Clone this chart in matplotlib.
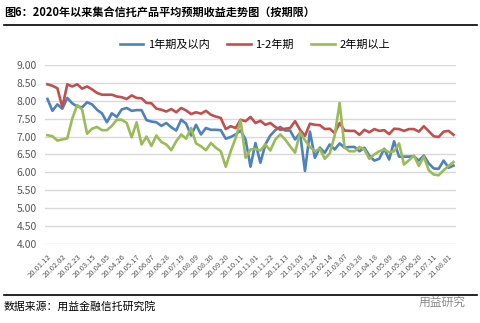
import numpy as np
import matplotlib
matplotlib.use('Agg')
import matplotlib.pyplot as plt
from matplotlib.lines import Line2D

plt.rcParams['font.family'] = ['Noto Sans CJK SC', 'DejaVu Sans']

#Weekly dates, one point per week starting 2020-01-12
tick_labels = ['20.01.12', '20.02.02', '20.02.23', '20.03.15', '20.04.05', '20.04.26',
               '20.05.17', '20.06.07', '20.06.28', '20.07.19', '20.08.09', '20.08.30',
               '20.09.20', '20.10.11', '20.11.01', '20.11.22', '20.12.13', '21.01.03',
               '21.01.24', '21.02.14', '21.03.07', '21.03.28', '21.04.18', '21.05.09',
               '21.05.30', '21.06.20', '21.07.11', '21.08.01']

series_names = ['1年期及以内', '1-2年期', '2年期以上']

within_1y = [8.05, 7.72, 7.90, 7.78, 8.08, 7.93, 7.84, 7.82, 7.96, 7.90,
             7.75, 7.65, 7.40, 7.65, 7.55, 7.76, 7.80, 7.72, 7.74, 7.74,
             7.46, 7.42, 7.40, 7.30, 7.38, 7.26, 7.17, 7.47, 7.36, 7.03,
             7.33, 7.06, 7.24, 7.19, 7.19, 7.18, 6.94, 6.99, 7.06, 7.17,
             6.92, 6.16, 6.82, 6.27, 6.78, 7.03, 7.18, 7.27, 7.17, 7.17,
             6.92, 7.10, 6.04, 7.14, 6.41, 6.69, 6.55, 6.78, 6.64, 6.81,
             6.69, 6.71, 6.71, 6.59, 6.69, 6.47, 6.33, 6.38, 6.66, 6.36,
             6.87, 6.44, 6.44, 6.44, 6.45, 6.33, 6.47, 6.25, 6.11, 6.10,
             6.33, 6.13, 6.19]

y1_to_2 = [8.46, 8.42, 8.35, 7.82, 8.46, 8.40, 8.46, 8.34, 8.40, 8.32,
           8.22, 8.17, 8.17, 8.17, 8.12, 8.10, 8.05, 8.15, 8.08, 8.07,
           7.94, 7.93, 7.78, 7.75, 7.70, 7.77, 7.68, 7.80, 7.73, 7.63,
           7.68, 7.64, 7.72, 7.61, 7.56, 7.52, 7.21, 7.29, 7.24, 7.47,
           7.43, 7.55, 7.38, 7.44, 7.33, 7.38, 7.27, 7.19, 7.22, 7.24,
           7.43, 7.19, 7.02, 7.36, 7.33, 7.32, 7.21, 7.22, 7.10, 7.38,
           7.17, 7.16, 7.16, 7.05, 7.19, 7.12, 7.21, 7.16, 7.18, 7.07,
           7.22, 7.21, 7.16, 7.21, 7.21, 7.14, 7.29, 7.15, 7.01, 6.99,
           7.14, 7.16, 7.05]

over_2y = [7.04, 7.01, 6.89, 6.92, 6.95, 7.50, 7.88, 7.75, 7.08, 7.22,
           7.27, 7.18, 7.18, 7.30, 7.47, 7.47, 7.38, 6.98, 7.40, 6.78,
           7.00, 6.74, 7.03, 6.85, 6.78, 6.62, 6.87, 7.06, 6.94, 7.24,
           6.81, 6.73, 6.62, 6.82, 6.69, 6.59, 6.16, 6.59, 6.96, 7.45,
           6.41, 6.64, 6.66, 6.61, 6.78, 6.61, 6.92, 7.06, 6.92, 6.73,
           6.55, 7.12, 6.90, 6.71, 6.59, 6.66, 6.38, 6.53, 7.03, 7.94,
           6.69, 6.59, 6.59, 6.71, 6.64, 6.38, 6.50, 6.59, 6.64, 6.56,
           6.59, 6.81, 6.22, 6.34, 6.47, 6.18, 6.44, 6.06, 5.94, 5.92,
           6.06, 6.18, 6.29]

colors = ['#4F81BD', '#C0504D', '#9BBB59']


def main():
    fig = plt.figure(figsize=(4.81, 3.23), dpi=100)
    ax = fig.add_axes([45 / 481, 1 - 244 / 323, 411 / 481, 179 / 323])

    x = np.arange(len(within_1y))
    for vals, c, name in zip([within_1y, y1_to_2, over_2y], colors, series_names):
        ax.plot(x, vals, color=c, lw=1.9, label=name, solid_joinstyle='round')

    ax.set_xlim(-0.5, len(x) - 0.5)
    ax.set_ylim(4, 9)
    ax.set_yticks(np.arange(4, 9.01, 0.5))
    ax.set_yticklabels([f'{v:.2f}' for v in np.arange(4, 9.01, 0.5)])
    ax.set_xticks(np.arange(0, len(tick_labels) * 3, 3))
    ax.set_xticklabels(tick_labels, rotation=45, ha='right', rotation_mode='anchor')

    ax.grid(axis='y', color='#D9D9D9', lw=1)
    ax.set_axisbelow(True)
    for s in ax.spines.values():
        s.set_visible(False)
    ax.tick_params(axis='both', length=0, colors='#595959')
    ax.tick_params(axis='y', labelsize=7.5, pad=6)
    ax.tick_params(axis='x', labelsize=5.5, pad=6)

    #Legend above the plot
    handles = [Line2D([0], [0], color=c, lw=1.9) for c in colors]
    fig.legend(handles, series_names, loc='center', ncol=3, frameon=False,
               bbox_to_anchor=(0.53, 0.861), fontsize=8, handlelength=2.1,
               columnspacing=1.6, handletextpad=0.4)

    #Title and rules
    fig.text(4 / 481, 0.963, '图6：2020年以来集合信托产品平均预期收益走势图（按期限）',
             fontsize=8, fontweight='bold', va='center', ha='left')
    fig.add_artist(Line2D([4 / 481, 477 / 481], [1 - 25 / 323, 1 - 25 / 323],
                          color='black', lw=1.2))
    fig.add_artist(Line2D([4 / 481, 477 / 481], [1 - 295 / 323, 1 - 295 / 323],
                          color='black', lw=1.2))
    fig.text(4 / 481, 1 - 306 / 323, '数据来源：用益金融信托研究院',
             fontsize=7.8, va='center', ha='left')
    fig.text(466 / 481, 1 - 302 / 323, '用益研究', fontsize=8.5, color='#8C8C8C',
             va='center', ha='right', style='italic')

    fig.savefig('out.png', dpi=100)


if __name__ == '__main__':
    main()
